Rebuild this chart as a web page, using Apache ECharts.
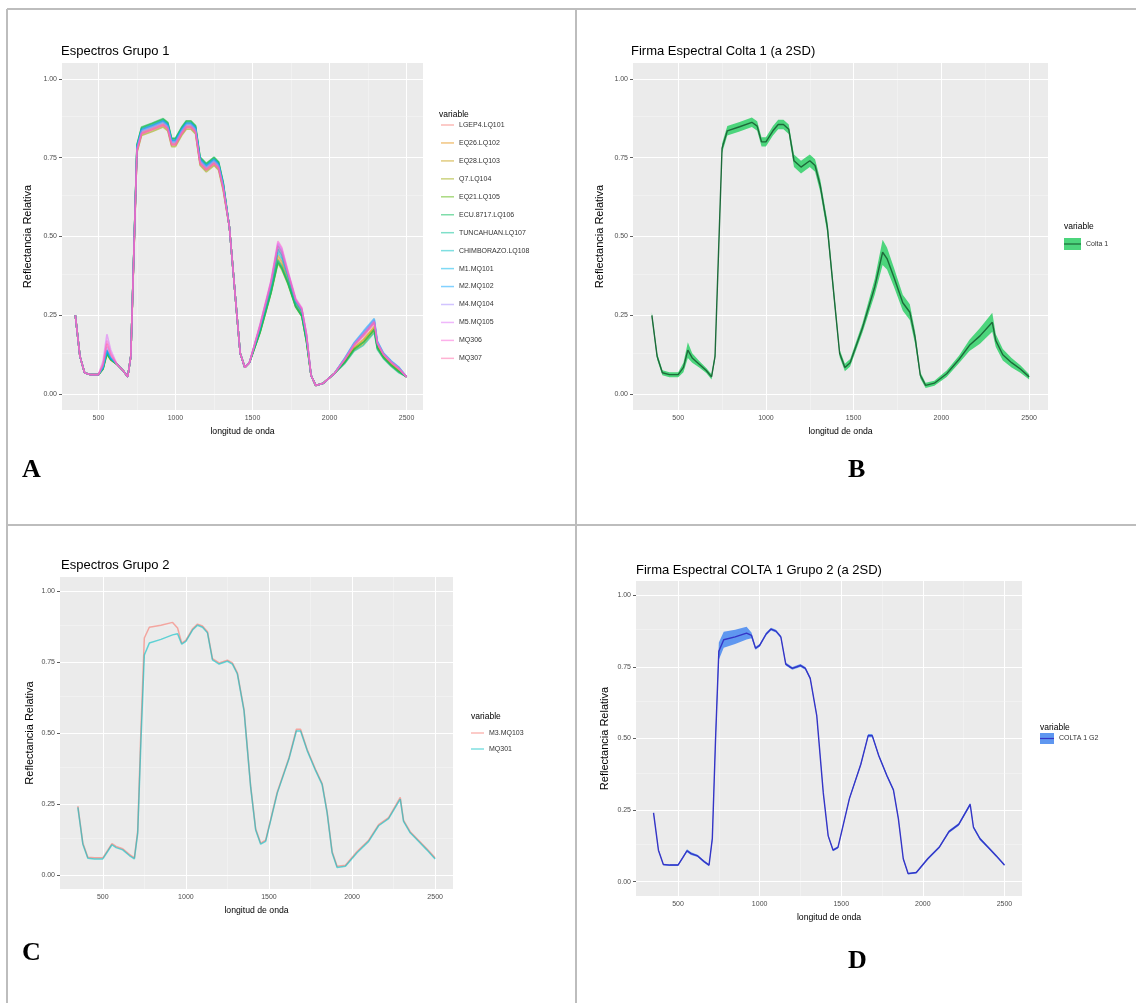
<!DOCTYPE html>
<html>
<head>
<meta charset="utf-8">
<script src="https://cdn.jsdelivr.net/npm/echarts@6/dist/echarts.min.js"></script>
<style>
html,body{margin:0;padding:0;background:#fff;}
#chart{width:1136px;height:1003px;}
</style>
</head>
<body>
<div id="chart"></div>
<script>
// Wavelength grid (nm) shared by every spectrum
const wavelength = [350,380,410,450,500,530,555,580,620,660,690,710,730,750,780,850,920,950,975,1000,1040,1070,1100,1130,1160,1200,1250,1280,1310,1350,1390,1420,1450,1480,1550,1620,1665,1690,1730,1780,1820,1850,1880,1910,1960,2030,2100,2160,2220,2290,2310,2350,2400,2450,2500];

// Axis breaks
const xTicks = [500,1000,1500,2000,2500];
const xMinor = [750,1250,1750,2250];
const yTicks = [0,0.25,0.5,0.75,1];
const yMinor = [0.125,0.375,0.625,0.875];

// Group 1 spectra
const group1Names = ['LGEP4.LQ101','EQ26.LQ102','EQ28.LQ103','Q7.LQ104','EQ21.LQ105','ECU.8717.LQ106','TUNCAHUAN.LQ107','CHIMBORAZO.LQ108','M1.MQ101','M2.MQ102','M4.MQ104','M5.MQ105','MQ306','MQ307'];
const group1Colors = ['#F8766D','#E38900','#C49A00','#99A800','#53B400','#00BC56','#00C094','#00BFC4','#00B6EB','#06A4FF','#A58AFF','#DF70F8','#FB61D7','#FF66A8'];
const spLGEP4 = [.25,.12,.068,.062,.062,.085,.14,.115,.095,.075,.055,.12,.452,.785,.84,.853,.867,.855,.805,.805,.84,.86,.86,.845,.745,.725,.745,.73,.665,.53,.30,.13,.085,.10,.214,.346,.46,.44,.376,.294,.264,.184,.06,.028,.035,.065,.11,.155,.185,.225,.16,.125,.10,.08,.055];
const spEQ26 = [.25,.12,.068,.062,.062,.081,.13,.11,.095,.075,.055,.12,.445,.77,.825,.838,.852,.84,.79,.79,.825,.845,.845,.83,.73,.71,.73,.715,.65,.53,.30,.13,.085,.10,.206,.334,.44,.42,.364,.286,.256,.176,.06,.028,.035,.065,.106,.149,.175,.215,.154,.121,.096,.076,.055];
const spEQ28 = [.25,.12,.068,.062,.062,.083,.135,.113,.095,.075,.055,.12,.448,.775,.83,.843,.857,.845,.795,.795,.83,.85,.85,.835,.735,.715,.735,.72,.655,.53,.30,.13,.085,.10,.202,.328,.43,.41,.358,.282,.252,.172,.06,.028,.035,.065,.104,.146,.17,.21,.151,.119,.094,.074,.055];
const spQ7 = [.25,.12,.068,.062,.062,.081,.13,.11,.095,.075,.055,.12,.443,.765,.82,.833,.847,.835,.785,.785,.82,.84,.84,.825,.725,.705,.725,.71,.645,.53,.30,.13,.085,.10,.198,.322,.42,.40,.352,.278,.248,.168,.06,.028,.035,.065,.10,.14,.16,.20,.145,.115,.09,.07,.055];
const spEQ21 = [.25,.12,.068,.062,.062,.079,.125,.108,.095,.075,.055,.12,.455,.79,.845,.858,.872,.86,.81,.81,.845,.865,.865,.85,.75,.73,.75,.735,.67,.53,.30,.13,.085,.10,.196,.319,.415,.395,.349,.276,.246,.166,.06,.028,.035,.065,.102,.143,.165,.205,.148,.117,.092,.072,.055];
const spECU8717 = [.25,.12,.068,.062,.062,.081,.13,.11,.095,.075,.055,.12,.456,.792,.847,.86,.874,.862,.812,.812,.847,.867,.867,.852,.752,.732,.752,.737,.672,.53,.30,.13,.085,.10,.198,.322,.42,.40,.352,.278,.248,.168,.06,.028,.035,.065,.102,.143,.165,.205,.148,.117,.092,.072,.055];
const spTuncahuan = [.25,.12,.068,.062,.062,.083,.135,.113,.095,.075,.055,.12,.454,.788,.843,.856,.87,.858,.808,.808,.843,.863,.863,.848,.748,.728,.748,.733,.668,.53,.30,.13,.085,.10,.20,.325,.425,.405,.355,.28,.25,.17,.06,.028,.035,.065,.098,.137,.155,.195,.142,.113,.088,.068,.055];
const spChimborazo = [.25,.12,.068,.062,.062,.085,.14,.115,.095,.075,.055,.12,.45,.78,.835,.848,.862,.85,.80,.80,.835,.855,.855,.84,.74,.72,.74,.725,.66,.53,.30,.13,.085,.10,.21,.34,.45,.43,.37,.29,.26,.18,.06,.028,.035,.065,.112,.158,.19,.23,.163,.127,.102,.082,.055];
const spM1 = [.25,.12,.068,.062,.062,.083,.135,.113,.095,.075,.055,.12,.452,.783,.838,.851,.865,.853,.803,.803,.838,.858,.858,.843,.743,.723,.743,.728,.663,.53,.30,.13,.085,.10,.214,.346,.46,.44,.376,.294,.264,.184,.06,.028,.035,.065,.114,.161,.195,.235,.166,.129,.104,.084,.055];
const spM2 = [.25,.12,.068,.062,.062,.085,.14,.115,.095,.075,.055,.12,.452,.785,.84,.853,.867,.855,.805,.805,.84,.86,.86,.845,.745,.725,.745,.73,.665,.53,.30,.13,.085,.10,.218,.352,.47,.45,.382,.298,.268,.188,.06,.028,.035,.065,.116,.164,.20,.24,.169,.131,.106,.086,.055];
const spM4 = [.25,.12,.068,.062,.062,.089,.15,.12,.095,.075,.055,.12,.45,.78,.835,.848,.862,.85,.80,.80,.835,.855,.855,.84,.74,.72,.74,.725,.66,.53,.30,.13,.085,.10,.22,.355,.475,.455,.385,.30,.27,.19,.06,.028,.035,.065,.114,.161,.195,.235,.166,.129,.104,.084,.055];
const spM5 = [.25,.12,.068,.062,.062,.105,.19,.14,.095,.075,.055,.12,.448,.775,.83,.843,.857,.845,.795,.795,.83,.85,.85,.835,.735,.715,.735,.72,.655,.53,.30,.13,.085,.10,.222,.358,.48,.46,.388,.302,.272,.192,.06,.028,.035,.065,.112,.158,.19,.23,.163,.127,.102,.082,.055];
const spMQ306 = [.25,.12,.068,.062,.062,.097,.17,.13,.095,.075,.055,.12,.445,.77,.825,.838,.852,.84,.79,.79,.825,.845,.845,.83,.73,.71,.73,.715,.65,.53,.30,.13,.085,.10,.224,.361,.485,.465,.391,.304,.274,.194,.06,.028,.035,.065,.11,.155,.185,.225,.16,.125,.10,.08,.055];
const spMQ307 = [.25,.12,.068,.062,.062,.093,.16,.125,.095,.075,.055,.12,.446,.772,.827,.84,.854,.842,.792,.792,.827,.847,.847,.832,.732,.712,.732,.717,.652,.53,.30,.13,.085,.10,.218,.352,.47,.45,.382,.298,.268,.188,.06,.028,.035,.065,.112,.158,.19,.23,.163,.127,.102,.082,.055];
const group1Spectra = [spLGEP4,spEQ26,spEQ28,spQ7,spEQ21,spECU8717,spTuncahuan,spChimborazo,spM1,spM2,spM4,spM5,spMQ306,spMQ307];

// Colta 1 spectral signature: mean and 2SD half-width
const colta1Mean = [.25,.12,.068,.062,.062,.085,.14,.115,.095,.075,.055,.12,.45,.78,.835,.848,.862,.85,.80,.80,.835,.855,.855,.84,.74,.72,.74,.725,.66,.53,.30,.13,.085,.10,.21,.34,.45,.43,.37,.29,.26,.18,.06,.028,.035,.065,.11,.155,.185,.228,.17,.125,.10,.08,.055];
const colta1Sd2 = [.01,.01,.008,.008,.008,.015,.025,.015,.01,.008,.008,.01,.015,.015,.015,.015,.015,.015,.015,.015,.015,.015,.015,.015,.02,.02,.02,.02,.02,.02,.015,.012,.012,.012,.015,.025,.04,.035,.03,.025,.025,.02,.01,.008,.008,.01,.012,.018,.025,.03,.02,.018,.015,.012,.008];

// Group 2 spectra
const group2Names = ['M3.MQ103','MQ301'];
const group2Colors = ['#F8766D','#00BFC4'];
const spM3 = [.242,.112,.062,.06,.06,.087,.11,.1,.092,.072,.06,.155,.52,.835,.873,.88,.89,.87,.817,.827,.867,.884,.877,.857,.762,.747,.757,.747,.712,.582,.312,.162,.112,.122,.292,.412,.513,.513,.442,.372,.322,.222,.082,.03,.034,.082,.122,.177,.202,.273,.192,.152,.122,.092,.06];
const spMQ301 = [.238,.108,.058,.056,.056,.083,.106,.096,.088,.068,.056,.145,.48,.775,.817,.83,.846,.85,.813,.823,.863,.88,.873,.853,.758,.743,.753,.743,.708,.578,.308,.158,.108,.118,.288,.408,.507,.507,.438,.368,.318,.218,.078,.026,.03,.078,.118,.173,.198,.267,.188,.148,.118,.088,.056];
const group2Spectra = [spM3, spMQ301];

// COLTA 1 Grupo 2 spectral signature: mean and 2SD half-width
const colta1G2Mean = [.24,.11,.06,.058,.058,.085,.108,.098,.09,.07,.058,.15,.50,.805,.845,.855,.868,.86,.815,.825,.865,.882,.875,.855,.76,.745,.755,.745,.71,.58,.31,.16,.11,.12,.29,.41,.51,.51,.44,.37,.32,.22,.08,.028,.032,.08,.12,.175,.20,.27,.19,.15,.12,.09,.058];
const colta1G2Sd2 = [.005,.004,.003,.003,.003,.004,.005,.005,.004,.004,.004,.01,.02,.03,.028,.025,.022,.01,.005,.005,.005,.005,.005,.005,.005,.005,.005,.005,.005,.005,.005,.005,.004,.004,.005,.005,.006,.006,.005,.005,.005,.005,.004,.003,.003,.004,.004,.005,.005,.006,.005,.005,.004,.004,.003];

// ---------------------------------------------------------------------------
const FONT = 'Liberation Sans';
const yRange = [-0.05, 1.05];

// Plot boxes of the four panels (pixels) and their wavelength span
const panels = [
  {left: 62,  top: 63,  width: 361, height: 347, xMin: 263.5, xMax: 2606.5, nameGap: 29},
  {left: 633, top: 63,  width: 415, height: 347, xMin: 242.5, xMax: 2607.5, nameGap: 28},
  {left: 60,  top: 577, width: 393, height: 312, xMin: 242.5, xMax: 2607.5, nameGap: 25},
  {left: 636, top: 581, width: 386, height: 315, xMin: 242.5, xMax: 2607.5, nameGap: 26}
];

const pairs = ys => wavelength.map((w, i) => [w, ys[i]]);

const grids = [], xAxes = [], yAxes = [], series = [];

panels.forEach((p, k) => {
  grids.push({left: p.left, top: p.top, width: p.width, height: p.height,
    show: true, backgroundColor: '#EBEBEB', borderWidth: 0, containLabel: false});
  xAxes.push({
    gridIndex: k, type: 'value', min: p.xMin, max: p.xMax,
    axisLine: {show: false},
    axisTick: {show: true, length: 3, customValues: xTicks, lineStyle: {color: '#333', width: 0.8}},
    axisLabel: {customValues: xTicks, fontSize: 7, color: '#4D4D4D', margin: 5, fontFamily: FONT,
      formatter: v => String(v)},
    splitLine: {show: false},
    name: 'longitud de onda', nameLocation: 'middle', nameGap: 17,
    nameTextStyle: {fontSize: 8.7, color: '#000', fontFamily: FONT}
  });
  yAxes.push({
    gridIndex: k, type: 'value', min: yRange[0], max: yRange[1],
    axisLine: {show: false},
    axisTick: {show: true, length: 3, customValues: yTicks, lineStyle: {color: '#333', width: 0.8}},
    axisLabel: {customValues: yTicks, fontSize: 7, color: '#4D4D4D', margin: 5, fontFamily: FONT,
      formatter: v => v.toFixed(2)},
    splitLine: {show: false},
    name: 'Reflectancia Relativa', nameLocation: 'middle', nameGap: p.nameGap,
    nameTextStyle: {fontSize: 11, color: '#000', fontFamily: FONT}
  });
  // panel grid lines (major + minor), kept under the data
  const ml = [];
  xTicks.forEach(v => ml.push({xAxis: v, lineStyle: {color: '#FFFFFF', width: 1}}));
  xMinor.forEach(v => ml.push({xAxis: v, lineStyle: {color: '#F6F6F6', width: 0.5}}));
  yTicks.forEach(v => ml.push({yAxis: v, lineStyle: {color: '#FFFFFF', width: 1}}));
  yMinor.forEach(v => ml.push({yAxis: v, lineStyle: {color: '#F6F6F6', width: 0.5}}));
  series.push({
    type: 'line', name: 'grid' + k, data: [], xAxisIndex: k, yAxisIndex: k, z: 1, silent: true,
    markLine: {z: 1, silent: true, symbol: ['none', 'none'], label: {show: false}, animation: false,
      lineStyle: {type: 'solid'}, emphasis: {disabled: true}, data: ml}
  });
});

// Panel A: group 1 spectra
group1Spectra.forEach((ys, i) => {
  series.push({type: 'line', name: group1Names[i], data: pairs(ys), xAxisIndex: 0, yAxisIndex: 0,
    symbol: 'none', z: 3, color: group1Colors[i],
    lineStyle: {color: group1Colors[i], width: 1.6, opacity: 0.55}});
});

// 2SD ribbon drawn as one polygon through the axis scales, plus the mean line
function ribbon(mean, sd, k, name, fill, line) {
  const lower = mean.map((m, i) => m - sd[i]);
  const upper = mean.map((m, i) => m + sd[i]);
  series.push({
    type: 'custom', name: name, xAxisIndex: k, yAxisIndex: k, z: 3, silent: true, color: fill,
    data: wavelength.map((w, i) => [w, lower[i], upper[i]]),
    encode: {x: 0, y: [1, 2]},
    renderItem: (params, api) => {
      if (params.dataIndex !== 0) return null;
      const pts = [];
      wavelength.forEach((w, i) => pts.push(api.coord([w, upper[i]])));
      for (let i = wavelength.length - 1; i >= 0; i--) pts.push(api.coord([wavelength[i], lower[i]]));
      return {type: 'polygon', shape: {points: pts}, style: {fill: fill}};
    }
  });
  series.push({type: 'line', name: name, data: pairs(mean), xAxisIndex: k, yAxisIndex: k,
    symbol: 'none', z: 4, color: fill, lineStyle: {color: line, width: 1.4}});
}
ribbon(colta1Mean, colta1Sd2, 1, 'Colta 1', '#4CD57C', '#1D6A3A');

// Panel C: group 2 spectra
group2Spectra.forEach((ys, i) => {
  series.push({type: 'line', name: group2Names[i], data: pairs(ys), xAxisIndex: 2, yAxisIndex: 2,
    symbol: 'none', z: 3, color: group2Colors[i],
    lineStyle: {color: group2Colors[i], width: 1.5, opacity: 0.6}});
});

// Panel D
ribbon(colta1G2Mean, colta1G2Sd2, 3, 'COLTA 1 G2', '#5F97F0', '#3535C6');

const titleStyle = {fontSize: 13, fontWeight: 'normal', color: '#000', fontFamily: FONT};
const legTitleStyle = {fontSize: 8.5, fontWeight: 'normal', color: '#000', fontFamily: FONT};

function letter(text, x, y) {
  return {type: 'text', x: x, y: y, z: 100,
    style: {text: text, fill: '#000', font: 'bold 26px "Liberation Serif"', align: 'left', verticalAlign: 'middle'}};
}
function border(x1, y1, x2, y2) {
  return {type: 'line', z: 100, shape: {x1, y1, x2, y2}, style: {stroke: '#BDBDBD', lineWidth: 2}};
}
function keyLine(x1, x2, y, color) {
  return {type: 'line', z: 100, shape: {x1, y1: y, x2, y2: y}, style: {stroke: color, lineWidth: 1.2}};
}

const option = {
  animation: false,
  textStyle: {fontFamily: FONT},
  grid: grids, xAxis: xAxes, yAxis: yAxes, series: series,
  title: [
    {text: 'Espectros Grupo 1', left: 61, top: 45, padding: 0, textStyle: titleStyle},
    {text: 'Firma Espectral Colta 1 (a 2SD)', left: 631, top: 45, padding: 0, textStyle: titleStyle},
    {text: 'Espectros Grupo 2', left: 61, top: 559, padding: 0, textStyle: titleStyle},
    {text: 'Firma Espectral COLTA 1 Grupo 2 (a 2SD)', left: 636, top: 564, padding: 0, textStyle: titleStyle},
    {text: 'variable', left: 439, top: 110, padding: 0, textStyle: legTitleStyle},
    {text: 'variable', left: 1064, top: 222, padding: 0, textStyle: legTitleStyle},
    {text: 'variable', left: 471, top: 712, padding: 0, textStyle: legTitleStyle},
    {text: 'variable', left: 1040, top: 723, padding: 0, textStyle: legTitleStyle}
  ],
  legend: [
    {orient: 'vertical', left: 441, top: 120, padding: 0, itemWidth: 13, itemHeight: 1.5, icon: 'rect',
      itemGap: 7.95, itemStyle: {opacity: 0.5},
      textStyle: {fontSize: 7, color: '#333', lineHeight: 10, fontFamily: FONT},
      data: group1Names, selectedMode: false},
    {orient: 'vertical', left: 1064, top: 238, padding: 0, itemWidth: 17, itemHeight: 12, icon: 'rect',
      textStyle: {fontSize: 7, color: '#333', fontFamily: FONT},
      data: [{name: 'Colta 1', itemStyle: {color: '#4CD57C'}}], selectedMode: false},
    {orient: 'vertical', left: 471, top: 728, padding: 0, itemWidth: 13, itemHeight: 1.5, icon: 'rect',
      itemGap: 6, itemStyle: {opacity: 0.5},
      textStyle: {fontSize: 7, color: '#333', lineHeight: 10, fontFamily: FONT},
      data: group2Names, selectedMode: false},
    {orient: 'vertical', left: 1040, top: 733, padding: 0, itemWidth: 14, itemHeight: 11, icon: 'rect',
      textStyle: {fontSize: 7, color: '#333', fontFamily: FONT},
      data: [{name: 'COLTA 1 G2', itemStyle: {color: '#5F97F0'}}], selectedMode: false}
  ],
  graphic: [
    border(7, 9, 1136, 9),
    border(7, 9, 7, 1003),
    border(576, 9, 576, 1003),
    border(7, 525, 1136, 525),
    keyLine(1064, 1081, 244, '#1D6A3A'),
    keyLine(1040, 1054, 738.5, '#3535C6'),
    letter('A', 22, 470),
    letter('B', 848, 470),
    letter('C', 22, 953),
    letter('D', 848, 961)
  ]
};

const chart = echarts.init(document.getElementById('chart'), null, {renderer: 'canvas'});
chart.setOption(option);
</script>
</body>
</html>
